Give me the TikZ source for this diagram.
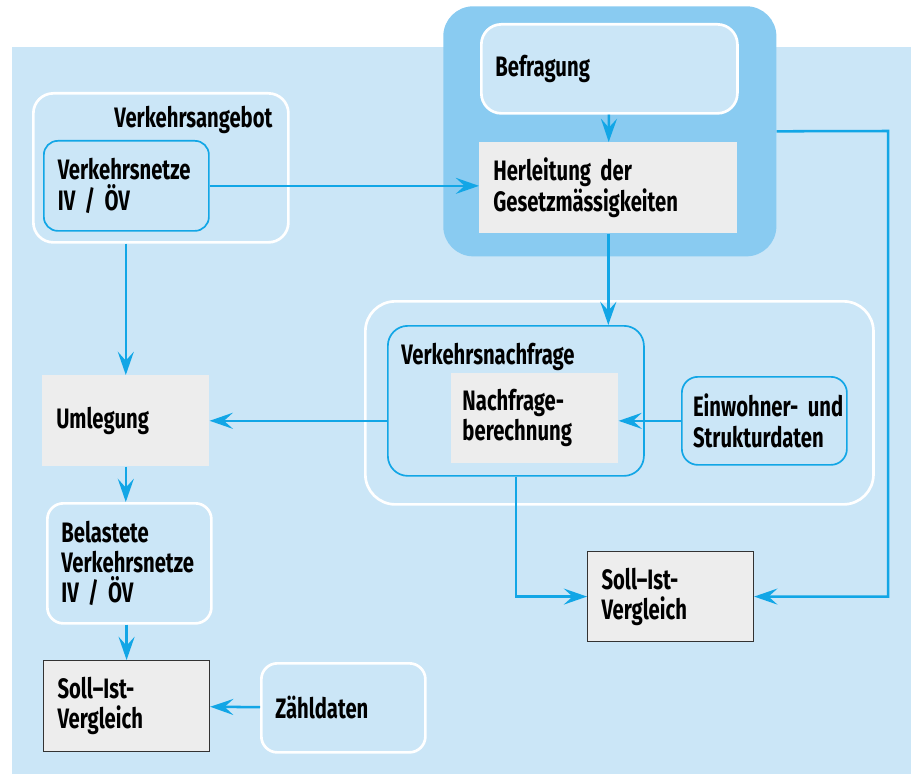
\documentclass[tikz,border=0pt]{standalone}
\usepackage{fontspec}
\setmainfont{Fira Sans}[FakeStretch=0.72]
\usetikzlibrary{positioning, arrows.meta}

\definecolor{bgblue}{HTML}{CBE6F7}
\definecolor{darkblue}{HTML}{89CBF1}
\definecolor{lineblue}{HTML}{12A6E6}
\definecolor{boxgray}{HTML}{EDEDED}
\definecolor{framegray}{HTML}{333333}

\newcommand\boxfont{\fontsize{20}{21.5}\selectfont\bfseries\fontdimen2\font=0.17em\relax}

\tikzset{
  plainbox/.style={anchor=north west, inner xsep=0.35cm, inner ysep=0pt, align=left, font=\boxfont},
  whitebox/.style={plainbox, draw=white, line width=1.9pt, fill=bgblue, rounded corners=0.5cm},
  bluebox/.style={plainbox, draw=lineblue, line width=1.2pt, rounded corners=0.35cm},
  graybox/.style={plainbox, fill=boxgray},
  checkbox/.style={plainbox, fill=boxgray, draw=framegray, line width=0.8pt},
  lbl/.style={inner sep=0pt, font=\boxfont},
  flow/.style={draw=lineblue, line width=1.8pt, -{Stealth[length=0.58cm, width=0.4cm, inset=0.22cm]}},
}

\begin{document}
\begin{tikzpicture}[x=0.025cm, y=-0.025cm]
  \useasboundingbox (0,0) rectangle (911,774);
  \fill[bgblue] (12,47) rectangle (911,774);

  % Befragung / Herleitung
  \node[plainbox, fill=darkblue, rounded corners=0.75cm, minimum width=8.325cm, minimum height=6.25cm] (herlbox) at (443,6) {};
  \node[whitebox, text width=5.7cm, minimum height=2.225cm] (befr) at (480,23) {Befragung};
  \node[graybox, text width=5.75cm, minimum height=2.275cm] (herl) at (479,142) {Herleitung der\\Gesetzmässigkeiten};

  % Verkehrsangebot
  \node[whitebox, minimum width=6.375cm, minimum height=3.725cm] (angebot) at (32,92) {};
  \node[lbl, below left=0.35cm and 0.425cm of angebot.north east] (angebotlbl) {Verkehrsangebot};
  \node[bluebox, text width=3.425cm, minimum height=2.25cm] (netze) at (43,140) {Verkehrsnetze\\IV / ÖV};

  % linke Spalte
  \node[graybox, text width=3.475cm, minimum height=2.275cm] (umleg) at (42,375) {Umlegung};
  \node[whitebox, rounded corners=0.4cm, text width=3.4cm, minimum height=3cm] (belast) at (46,502) {Belastete\\Verkehrsnetze\\IV / ÖV};
  \node[checkbox, text width=3.45cm, minimum height=2.275cm] (soll1) at (43,660) {Soll–Ist-\\Vergleich};
  \node[whitebox, rounded corners=0.4cm, text width=3.4cm, minimum height=2.225cm] (zaehl) at (260,662) {Zähldaten};

  % Verkehrsnachfrage
  \node[whitebox, fill=none, rounded corners=0.75cm, minimum width=12.7cm, minimum height=5.075cm] (nachfr) at (364,300) {};
  \node[bluebox, rounded corners=0.5cm, minimum width=6.4cm, minimum height=3.75cm] (vnf) at (387,325) {};
  \node[lbl, below right=0.45cm and 0.35cm of vnf.north west] (vnflbl) {Verkehrsnachfrage};
  \node[graybox, inner xsep=0.28cm, text width=3.615cm, minimum height=2.25cm] (nfb) at (451,373) {Nachfrage-\\berechnung};
  \node[bluebox, rounded corners=0.4cm, inner xsep=0.28cm, text width=3.565cm, minimum height=2.2cm] (einw) at (681,376) {\mbox{Einwohner- und}\\Strukturdaten};
  \node[checkbox, text width=3.45cm, minimum height=2.25cm] (soll2) at (587,551) {Soll–Ist-\\Vergleich};

  % Verbindungen
  \draw[flow] (netze.east) -- (netze.east -| herl.west);
  \draw[flow] (befr) -- (herl);
  \draw[flow] (herl.south) -- (herl.south |- vnf.north);
  \draw[flow] (umleg.north |- angebot.south) -- (umleg.north);
  \draw[flow] (vnf.west |- umleg.east) -- (umleg.east);
  \draw[flow] (umleg.south) -- (umleg.south |- belast.north);
  \draw[flow] (soll1.north |- belast.south) -- (soll1.north);
  \draw[flow] (zaehl) -- (soll1);
  \draw[flow] (einw.west) -- (einw.west -| nfb.east);
  \draw[flow] (vnf.south) |- (soll2.west);
  \coordinate (rbend) at (888,131);
  \draw[flow] (herlbox.east) -- (rbend) |- (soll2.east);
\end{tikzpicture}
\end{document}
